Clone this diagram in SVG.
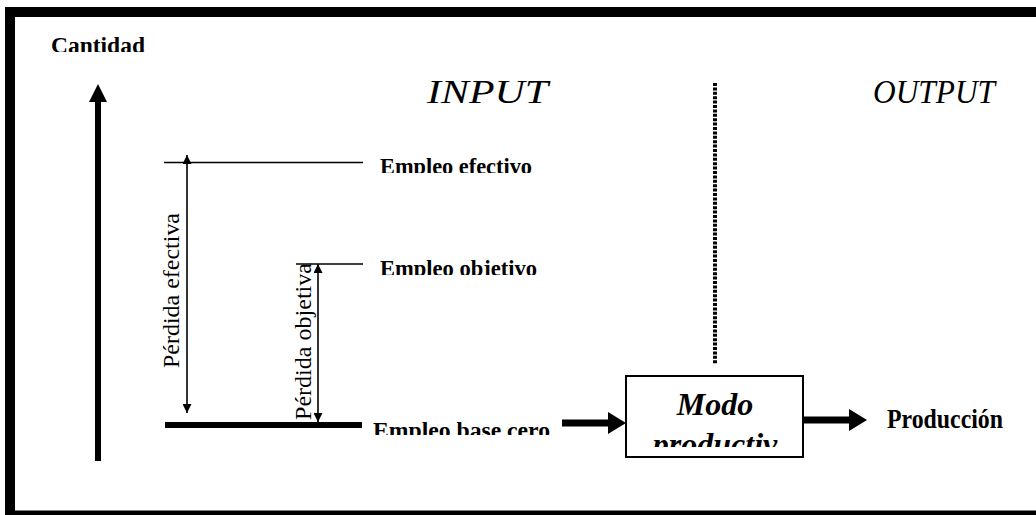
<svg xmlns="http://www.w3.org/2000/svg" width="1036" height="515" viewBox="0 0 1036 515">
  <style>
    .label { font-family: "Liberation Serif", "DejaVu Serif", serif; fill: #000; }
    .bold { font-weight: bold; }
    .ital { font-style: italic; }
    .thin { stroke: #000; stroke-width: 1.6; fill: none; }
    .thick { stroke: #000; fill: none; }
  </style>
  <defs>
    <!-- small head for the loss measures -->
    <marker id="head-small" markerUnits="userSpaceOnUse" markerWidth="9" markerHeight="9" refX="9" refY="4.5" orient="auto-start-reverse">
      <path d="M0,0 L9,4.5 L0,9 Z" fill="#000"/>
    </marker>
    <!-- heavy head for flow arrows, placed at the end of the shaft -->
    <marker id="head-flow" markerUnits="userSpaceOnUse" markerWidth="19" markerHeight="22" refX="0" refY="11" orient="auto">
      <path d="M0,0 L18,11 L0,22 Z" fill="#000"/>
    </marker>
    <marker id="head-axis" markerUnits="userSpaceOnUse" markerWidth="19" markerHeight="18" refX="0" refY="9" orient="auto">
      <path d="M0,0 L18,9 L0,18 Z" fill="#000"/>
    </marker>
    <clipPath id="clip-cantidad"><rect x="0" y="0" width="300" height="52"/></clipPath>
    <clipPath id="clip-efectivo"><rect x="370" y="140" width="200" height="33"/></clipPath>
    <clipPath id="clip-objetivo"><rect x="370" y="240" width="200" height="35"/></clipPath>
    <clipPath id="clip-base"><rect x="365" y="400" width="200" height="35"/></clipPath>
    <clipPath id="clip-modo"><rect x="628" y="378" width="173" height="69"/></clipPath>
  </defs>

  <!-- outer frame -->
  <rect x="10" y="12" width="1040" height="503.5" fill="#fff" stroke="#000" stroke-width="10"/>

  <g id="connectors">
    <!-- quantity axis -->
    <line class="thick" x1="98" y1="461" x2="98" y2="102" stroke-width="6" marker-end="url(#head-axis)"/>
    <!-- employment levels -->
    <line class="thin" x1="164" y1="162.5" x2="363" y2="162.5"/>
    <line class="thin" x1="296" y1="264" x2="363" y2="264"/>
    <line class="thick" x1="165" y1="425" x2="362" y2="425" stroke-width="6"/>
    <!-- loss measures -->
    <line class="thin" x1="187" y1="155" x2="187" y2="413" marker-start="url(#head-small)" marker-end="url(#head-small)"/>
    <line class="thin" x1="318" y1="264" x2="318" y2="422" marker-start="url(#head-small)" marker-end="url(#head-small)"/>
    <!-- input / output divider -->
    <line x1="715" y1="83" x2="715" y2="364" stroke="#000" stroke-width="4" stroke-dasharray="3 1.4"/>
    <!-- flow into and out of the productive mode -->
    <line class="thick" x1="562" y1="423" x2="608" y2="423" stroke-width="7" marker-end="url(#head-flow)"/>
    <line class="thick" x1="803" y1="420" x2="849" y2="420" stroke-width="7" marker-end="url(#head-flow)"/>
  </g>

  <g id="axis-label">
    <text class="label bold" x="51" y="53" font-size="24" textLength="94" lengthAdjust="spacingAndGlyphs" clip-path="url(#clip-cantidad)">Cantidad</text>
  </g>

  <g id="headings">
    <text class="label ital" x="427" y="103" font-size="33" textLength="121" lengthAdjust="spacingAndGlyphs">INPUT</text>
    <text class="label ital" x="873" y="103" font-size="33" textLength="122" lengthAdjust="spacingAndGlyphs">OUTPUT</text>
  </g>

  <g id="empleo-efectivo">
    <text class="label bold" x="380" y="174" font-size="24" textLength="152" lengthAdjust="spacingAndGlyphs" clip-path="url(#clip-efectivo)">Empleo efectivo</text>
  </g>

  <g id="empleo-objetivo">
    <text class="label bold" x="380" y="276" font-size="24" textLength="157" lengthAdjust="spacingAndGlyphs" clip-path="url(#clip-objetivo)">Empleo objetivo</text>
  </g>

  <g id="empleo-base-cero">
    <text class="label bold" x="373" y="438" font-size="24" textLength="177" lengthAdjust="spacingAndGlyphs" clip-path="url(#clip-base)">Empleo base cero</text>
  </g>

  <g id="perdida-efectiva">
    <text class="label" font-size="24" textLength="155" lengthAdjust="spacingAndGlyphs" transform="translate(179,368) rotate(-90)">Pérdida efectiva</text>
  </g>

  <g id="perdida-objetiva">
    <text class="label" font-size="24" textLength="157" lengthAdjust="spacingAndGlyphs" transform="translate(311,420) rotate(-90)">Pérdida objetiva</text>
  </g>

  <g id="modo-productivo">
    <rect x="626" y="376" width="177" height="81" fill="#fff" stroke="#000" stroke-width="2"/>
    <g clip-path="url(#clip-modo)">
      <text class="label bold ital" x="715" y="415" font-size="32" text-anchor="middle">Modo</text>
      <text class="label bold ital" x="715" y="455" font-size="32" text-anchor="middle">productiv</text>
    </g>
  </g>

  <g id="produccion">
    <text class="label bold" x="887" y="428" font-size="27" textLength="116" lengthAdjust="spacingAndGlyphs">Producción</text>
  </g>
</svg>
